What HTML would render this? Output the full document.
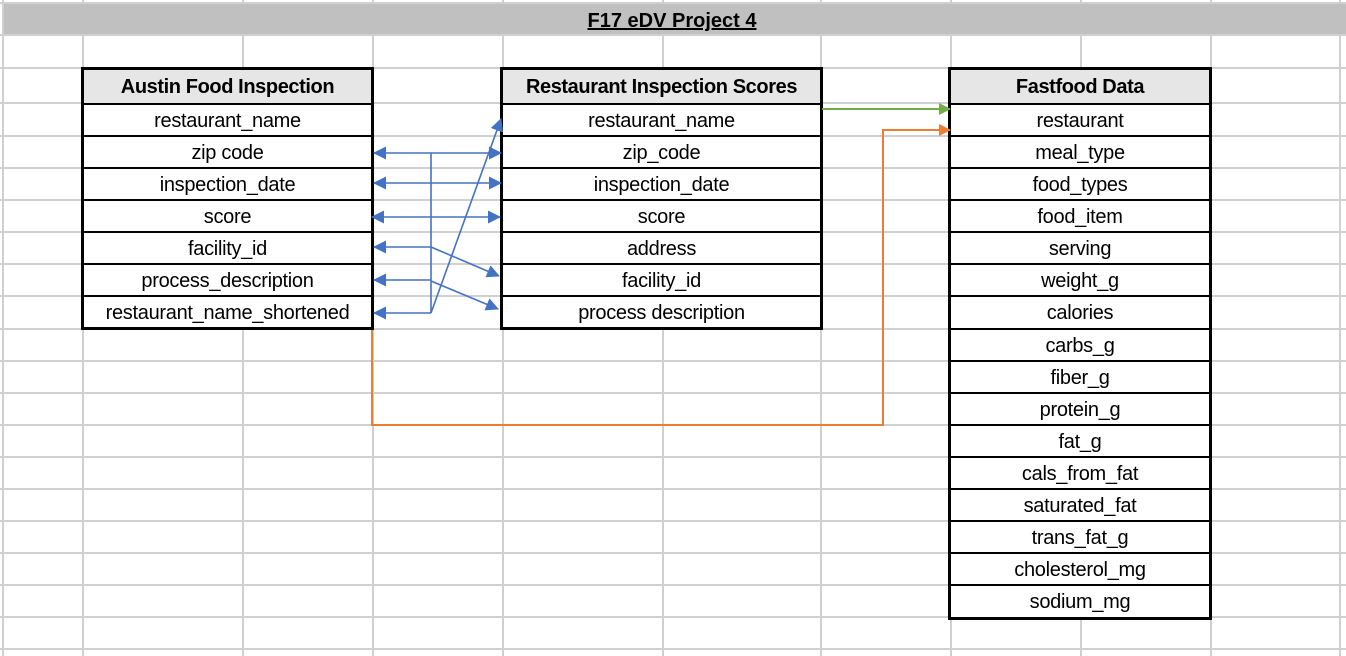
<!DOCTYPE html>
<html><head><meta charset="utf-8"><style>
body{margin:0;width:1346px;height:656px;background:#fff;position:relative;overflow:hidden;font-family:"Liberation Sans",Carlito,sans-serif;}
.t{position:absolute;border:3px solid #000;background:#fff;box-sizing:border-box;}
.r{position:absolute;left:0;right:0;border-top:2px solid #000;text-align:center;font-size:20px;line-height:32px;color:#000;white-space:nowrap;letter-spacing:-0.3px}
.h{position:absolute;left:0;right:0;top:0;background:#e7e6e6;text-align:center;font-weight:bold;font-size:20px;line-height:35px;letter-spacing:-0.4px}
</style></head><body>
<svg width="1346" height="656" style="position:absolute;left:0;top:0">
<g stroke="#d0d0d0" stroke-width="2">
<line x1="3" y1="0" x2="3" y2="656"/><line x1="83" y1="0" x2="83" y2="656"/><line x1="243" y1="0" x2="243" y2="656"/><line x1="373" y1="0" x2="373" y2="656"/><line x1="503" y1="0" x2="503" y2="656"/><line x1="663" y1="0" x2="663" y2="656"/><line x1="821" y1="0" x2="821" y2="656"/><line x1="951" y1="0" x2="951" y2="656"/><line x1="1081" y1="0" x2="1081" y2="656"/><line x1="1211" y1="0" x2="1211" y2="656"/><line x1="1340" y1="0" x2="1340" y2="656"/>
<line x1="0" y1="3" x2="1346" y2="3"/><line x1="0" y1="35" x2="1346" y2="35"/><line x1="0" y1="68" x2="1346" y2="68"/><line x1="0" y1="103" x2="1346" y2="103"/>
<line x1="0" y1="136" x2="1346" y2="136"/><line x1="0" y1="168" x2="1346" y2="168"/><line x1="0" y1="200" x2="1346" y2="200"/><line x1="0" y1="232" x2="1346" y2="232"/><line x1="0" y1="264" x2="1346" y2="264"/><line x1="0" y1="296" x2="1346" y2="296"/><line x1="0" y1="329" x2="1346" y2="329"/><line x1="0" y1="361" x2="1346" y2="361"/><line x1="0" y1="393" x2="1346" y2="393"/><line x1="0" y1="425" x2="1346" y2="425"/><line x1="0" y1="457" x2="1346" y2="457"/><line x1="0" y1="489" x2="1346" y2="489"/><line x1="0" y1="521" x2="1346" y2="521"/><line x1="0" y1="553" x2="1346" y2="553"/><line x1="0" y1="585" x2="1346" y2="585"/><line x1="0" y1="617" x2="1346" y2="617"/><line x1="0" y1="649" x2="1346" y2="649"/>
</g>
<rect x="4" y="4" width="1342" height="30" fill="#c0c0c0"/>
<text x="672" y="27" text-anchor="middle" font-family="Liberation Sans,sans-serif" font-weight="bold" font-size="20" text-decoration="underline">F17 eDV Project 4</text>
</svg>

<div class="t" style="left:81px;top:67px;width:293px;height:263px">
<div class="h" style="height:33px">Austin Food Inspection</div>
<div class="r" style="top:33px">restaurant_name</div>
<div class="r" style="top:65px">zip code</div>
<div class="r" style="top:97px">inspection_date</div>
<div class="r" style="top:129px">score</div>
<div class="r" style="top:161px">facility_id</div>
<div class="r" style="top:193px">process_description</div>
<div class="r" style="top:225px">restaurant_name_shortened</div>
</div>

<div class="t" style="left:500px;top:67px;width:323px;height:263px">
<div class="h" style="height:33px">Restaurant Inspection Scores</div>
<div class="r" style="top:33px">restaurant_name</div>
<div class="r" style="top:65px">zip_code</div>
<div class="r" style="top:97px">inspection_date</div>
<div class="r" style="top:129px">score</div>
<div class="r" style="top:161px">address</div>
<div class="r" style="top:193px">facility_id</div>
<div class="r" style="top:225px">process description</div>
</div>

<div class="t" style="left:948px;top:67px;width:264px;height:553px">
<div class="h" style="height:33px">Fastfood Data</div>
<div class="r" style="top:33px">restaurant</div>
<div class="r" style="top:65px">meal_type</div>
<div class="r" style="top:97px">food_types</div>
<div class="r" style="top:129px">food_item</div>
<div class="r" style="top:161px">serving</div>
<div class="r" style="top:193px">weight_g</div>
<div class="r" style="top:225px">calories</div>
<div class="r" style="top:258px">carbs_g</div>
<div class="r" style="top:290px">fiber_g</div>
<div class="r" style="top:322px">protein_g</div>
<div class="r" style="top:354px">fat_g</div>
<div class="r" style="top:386px">cals_from_fat</div>
<div class="r" style="top:418px">saturated_fat</div>
<div class="r" style="top:450px">trans_fat_g</div>
<div class="r" style="top:482px">cholesterol_mg</div>
<div class="r" style="top:514px">sodium_mg</div>
</div>

<svg width="1346" height="656" style="position:absolute;left:0;top:0">
<defs>
<marker id="bs" markerWidth="13" markerHeight="13" refX="12" refY="6.5" orient="auto" markerUnits="userSpaceOnUse" viewBox="0 0 13 13"><path d="M0,0L13,6.5L0,13z" fill="#4472c4"/></marker>
<marker id="g" markerWidth="12" markerHeight="12" refX="11" refY="6" orient="auto" markerUnits="userSpaceOnUse" viewBox="0 0 12 12"><path d="M0,0L12,6L0,12z" fill="#70ad47"/></marker>
<marker id="o" markerWidth="12" markerHeight="12" refX="11" refY="6" orient="auto" markerUnits="userSpaceOnUse" viewBox="0 0 12 12"><path d="M0,0L12,6L0,12z" fill="#ed7d31"/></marker>
</defs>
<g stroke="#4472c4" stroke-width="1.6" fill="none">
<line x1="431" y1="153" x2="431" y2="313"/>
<line x1="431" y1="153" x2="374" y2="153" marker-end="url(#bs)"/>
<line x1="431" y1="153" x2="501" y2="153" marker-end="url(#bs)"/>
<line x1="431" y1="183" x2="374" y2="183" marker-end="url(#bs)"/>
<line x1="431" y1="183" x2="501" y2="183" marker-end="url(#bs)"/>
<line x1="431" y1="217" x2="372" y2="217" marker-end="url(#bs)"/>
<line x1="431" y1="217" x2="500" y2="217" marker-end="url(#bs)"/>
<line x1="431" y1="247" x2="374" y2="247" marker-end="url(#bs)"/>
<line x1="431" y1="280" x2="374" y2="280" marker-end="url(#bs)"/>
<line x1="431" y1="313" x2="374" y2="313" marker-end="url(#bs)"/>
<line x1="431" y1="247" x2="499" y2="276" marker-end="url(#bs)"/>
<line x1="431" y1="281" x2="498" y2="309" marker-end="url(#bs)"/>
<line x1="431" y1="313" x2="501" y2="119" marker-end="url(#bs)"/>
</g>
<line x1="822" y1="109" x2="950" y2="109" stroke="#70ad47" stroke-width="2" marker-end="url(#g)"/>
<polyline points="372,330 372,425 883,425 883,130 950,130" fill="none" stroke="#ed7d31" stroke-width="2" marker-end="url(#o)"/>
</svg>
</body></html>
